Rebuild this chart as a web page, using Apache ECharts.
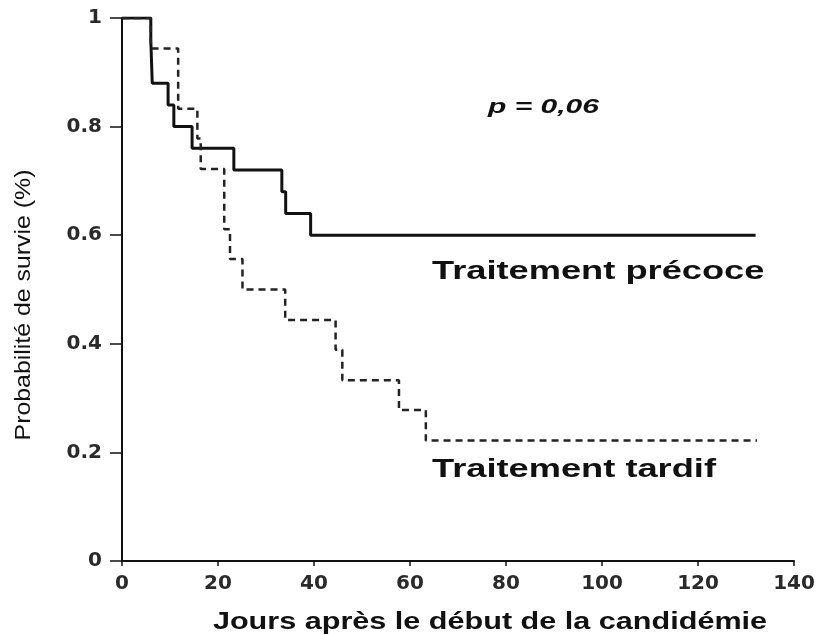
<!DOCTYPE html>
<html>
<head>
<meta charset="utf-8">
<script src="https://cdn.jsdelivr.net/npm/echarts@6/dist/echarts.min.js"></script>
<style>
  html, body { margin: 0; padding: 0; background: #fff; }
  #chart { width: 821px; height: 635px; }
</style>
</head>
<body>
<div id="chart"></div>
<script>
// Kaplan-Meier steps: survival holds from each time until the next one
const earlyDays = [0, 6, 6.3, 9.6, 10.8, 14.6, 23.3, 33.3, 34.1, 39.3, 132];
const earlySurv = [1, 0.96, 0.88, 0.84, 0.80, 0.76, 0.72, 0.68, 0.64, 0.60, 0.60];

const lateDays = [0, 6, 11.7, 15.7, 16.4, 21.3, 22.5, 25.1, 34.0, 44.5, 45.9, 57.7, 63.3, 132.3];
const lateSurv = [1, 0.944, 0.833, 0.778, 0.722, 0.611, 0.556, 0.5, 0.444, 0.389, 0.333, 0.278, 0.222, 0.222];

const xTitle = "Jours après le début de la candidémie";
const yTitle = "Probabilité de survie (%)";
const earlyLabel = "Traitement précoce";
const lateLabel = "Traitement tardif";
const pLabel = "p = 0,06";

const zip = (xs, ys) => xs.map((x, i) => [x, ys[i]]);

const chart = echarts.init(document.getElementById("chart"), null, { renderer: "canvas" });

// text in the scan is stretched sideways, so the labels get a scaleX
const txt = (text, x, y, font, opts) => Object.assign({
  type: "text",
  x: x,
  y: y,
  silent: true,
  style: {
    text: text,
    x: 0,
    y: 0,
    font: font,
    fill: "#111",
    align: "left",
    verticalAlign: "middle",
    textAlign: "left",
    textVerticalAlign: "middle"
  }
}, opts || {});

const option = {
  animation: false,
  backgroundColor: "#fff",
  grid: { left: 122, right: 27, top: 18, bottom: 74 },
  xAxis: {
    type: "value",
    min: 0,
    max: 140,
    interval: 20,
    axisLine: { lineStyle: { color: "#111", width: 2 } },
    axisTick: { show: true, length: 5, lineStyle: { color: "#111", width: 1.5 } },
    axisLabel: {
      margin: 13,
      color: "#2a2a2a",
      fontFamily: "DejaVu Sans",
      fontWeight: "bold",
      fontSize: 20
    },
    splitLine: { show: false }
  },
  yAxis: {
    type: "value",
    min: 0,
    max: 1,
    interval: 0.2,
    axisLine: { show: true, lineStyle: { color: "#111", width: 2 } },
    axisTick: { show: true, length: 12, lineStyle: { color: "#111", width: 1.5 } },
    axisLabel: {
      margin: 20,
      color: "#2a2a2a",
      fontFamily: "DejaVu Sans",
      fontWeight: "bold",
      fontSize: 20,
      formatter: v => (v === 0 || v === 1) ? String(v) : v.toFixed(1)
    },
    splitLine: { show: false }
  },
  series: [
    {
      name: earlyLabel,
      type: "line",
      step: "end",
      showSymbol: false,
      data: zip(earlyDays, earlySurv),
      lineStyle: { color: "#111", width: 3, type: "solid" }
    },
    {
      name: lateLabel,
      type: "line",
      step: "end",
      showSymbol: false,
      data: zip(lateDays, lateSurv),
      lineStyle: { color: "#222", width: 2.5, type: [7, 5] }
    }
  ],
  graphic: [
    txt(pLabel, 488, 107, "italic bold 20px 'Liberation Sans'", { scaleX: 1.5 }),
    txt(earlyLabel, 432, 272, "bold 25px 'Liberation Sans'", { scaleX: 1.45 }),
    txt(lateLabel, 432, 470, "bold 25px 'Liberation Sans'", { scaleX: 1.45 }),
    (function () {
      const t = txt(xTitle, 490, 623, "bold 23px 'Liberation Sans'", { scaleX: 1.33 });
      t.style.align = "center";
      t.style.textAlign = "center";
      return t;
    })(),
    (function () {
      const t = txt(yTitle, 24, 305, "22px 'Liberation Sans'", { scaleX: 1.13, rotation: Math.PI / 2 });
      t.style.align = "center";
      t.style.textAlign = "center";
      return t;
    })()
  ]
};

chart.setOption(option);
</script>
</body>
</html>
